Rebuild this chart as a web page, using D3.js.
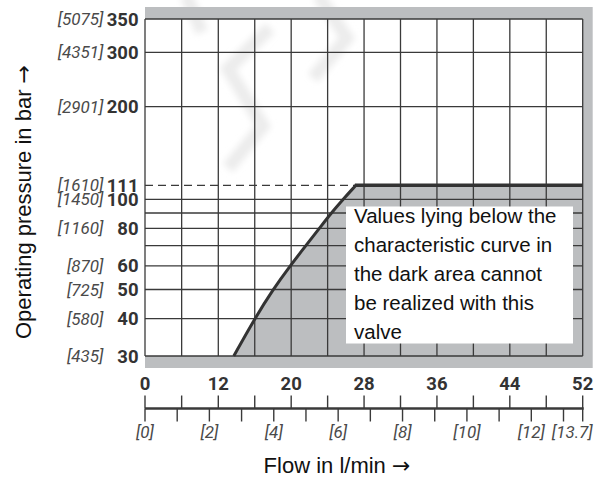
<!DOCTYPE html>
<html>
<head>
<meta charset="utf-8">
<style>
  html, body { margin: 0; padding: 0; background: #fff; }
  svg { display: block; }
</style>
<script src="https://cdn.jsdelivr.net/npm/d3@7/dist/d3.min.js"></script>
</head>
<body>
<div id="chart"></div>
<script>
// Pressure axis (bar) with psi equivalents.
var pressureTicks = [350, 300, 200, 111, 100, 80, 60, 50, 40, 30];
var psiLabels = ["[5075]", "[4351]", "[2901]", "[1610]", "[1450]", "[1160]", "[870]", "[725]", "[580]", "[435]"];
var pressureGrid = [30, 40, 50, 60, 70, 80, 90, 100, 200, 300, 350];

// Flow axis (l/min) with gpm sub-axis.
var flowLabels = [0, 12, 20, 28, 36, 44, 52];
var flowGrid = [0, 6, 12, 16, 20, 24, 28, 32, 36, 40, 44, 48, 52];
var gpmTicks = [0, 1, 2, 3, 4, 5, 6, 7, 8, 9, 10, 11, 12, 13, 13.7];
var gpmLabels = [0, 2, 4, 6, 8, 10, 12, 13.7];

// Characteristic curve: [flow l/min, pressure bar].
var curveFlow = [13.7, 16.0, 18.0, 19.9, 21.6, 23.1, 24.4, 25.7, 27.1];
var curvePressure = [30, 40, 50, 60, 70, 80, 90, 100, 111];
var maxPressure = 111;
var maxFlow = 52;

var noteLines = [
  "Values lying below the",
  "characteristic curve in",
  "the dark area cannot",
  "be realized with this",
  "valve"
];

(function () {
  "use strict";

  var W = 598, H = 480;
  var grey = "#bcbec0", ink = "#3a3a3a";
  var sans = "Liberation Sans, Arial, sans-serif";

  var svg = d3.select("#chart").append("svg")
    .attr("width", W).attr("height", H);

  // Broken flow axis: 0..12 compressed into two grid cells.
  var x = d3.scaleLinear().domain([0, 12, 52]).range([145, 218.3, 582.7]);
  var xg = d3.scaleLinear().domain([0, 13, 13.7]).range([145, 563.5, 582.7]);
  var y = d3.scaleLog().domain([30, 100, 300, 350]).range([356, 199.3, 52.3, 19]);

  var x0 = x(0), x1 = x(52), yTop = y(350), yBot = y(30);

  // Grey frame + white plot.
  svg.append("rect")
    .attr("x", x0).attr("y", yTop - 12)
    .attr("width", x1 - x0 + 10).attr("height", yBot - yTop + 24)
    .attr("fill", grey);
  svg.append("rect")
    .attr("x", x0).attr("y", yTop)
    .attr("width", x1 - x0).attr("height", yBot - yTop)
    .attr("fill", "#fff");

  // Faint watermark.
  var defs = svg.append("defs");
  defs.append("filter").attr("id", "blur")
    .append("feGaussianBlur").attr("stdDeviation", 3);
  var clip = defs.append("clipPath").attr("id", "wm-clip");
  clip.append("rect").attr("x", x0).attr("y", yTop).attr("width", x1 - x0).attr("height", yBot - yTop);
  clip.append("rect").attr("x", 0).attr("y", 0).attr("width", W).attr("height", yTop - 12);
  var wm = svg.append("g").attr("clip-path", "url(#wm-clip)")
    .attr("filter", "url(#blur)")
    .attr("fill", "none").attr("stroke", "#ececec")
    .attr("stroke-width", 13).attr("stroke-linejoin", "miter");
  [
    [[186, -5], [202, 32]],
    [[270, 28], [228, 69], [263, 126], [228, 168]],
    [[318, -5], [347, 38], [313, 78]]
  ].forEach(function (p) {
    wm.append("path").attr("d", d3.line()(p));
  });

  // Dark area below the characteristic curve.
  var pts = curveFlow.map(function (f, i) { return [f, curvePressure[i]]; });
  var area = d3.area()
    .curve(d3.curveBasis)
    .y(function (d) { return y(d[1]); })
    .x0(function (d) { return x(d[0]); })
    .x1(x(maxFlow));
  svg.append("path").attr("d", area(pts)).attr("fill", grey);

  // Grid.
  var grid = svg.append("g").attr("stroke", ink).attr("stroke-width", 1.3);
  grid.selectAll("line.h").data(pressureGrid).enter().append("line")
    .attr("x1", x0).attr("x2", x1)
    .attr("y1", function (d) { return y(d); })
    .attr("y2", function (d) { return y(d); });
  grid.selectAll("line.v").data(flowGrid).enter().append("line")
    .attr("y1", yTop).attr("y2", yBot)
    .attr("x1", function (d) { return x(d); })
    .attr("x2", function (d) { return x(d); });

  // Dashed limit line up to the curve.
  svg.append("line")
    .attr("x1", x0).attr("x2", x(curveFlow[curveFlow.length - 1]))
    .attr("y1", y(maxPressure)).attr("y2", y(maxPressure))
    .attr("stroke", ink).attr("stroke-width", 1.2)
    .attr("stroke-dasharray", "8 5");

  // Characteristic curve + flat limit.
  var line = d3.line()
    .curve(d3.curveBasis)
    .x(function (d) { return x(d[0]); })
    .y(function (d) { return y(d[1]); });
  svg.append("path").attr("d", line(pts))
    .attr("fill", "none").attr("stroke", "#333").attr("stroke-width", 3);
  svg.append("path").attr("d", d3.line()([
      [x(curveFlow[curveFlow.length - 1]) - 1, y(maxPressure)],
      [x(maxFlow), y(maxPressure)]
    ]))
    .attr("stroke", "#333").attr("stroke-width", 3.5);

  // Note box.
  svg.append("rect")
    .attr("x", 346).attr("y", 206.5).attr("width", 227).attr("height", 137)
    .attr("fill", "#fff");
  svg.append("g").selectAll("text").data(noteLines).enter().append("text")
    .attr("x", 354)
    .attr("y", function (d, i) { return 222.5 + i * 29; })
    .attr("font-family", sans)
    .attr("font-size", "20.5px")
    .attr("fill", "#111")
    .text(function (d) { return d; });

  // Y axis labels.
  var yl = svg.append("g");
  yl.selectAll("text.bar").data(pressureTicks).enter().append("text")
    .attr("x", 138.5)
    .attr("y", function (d) { return y(d) + 6.5; })
    .attr("text-anchor", "end")
    .attr("font-family", "Roboto, sans-serif")
    .attr("font-weight", 700).attr("font-size", "18.5px")
    .attr("fill", "#333")
    .text(function (d) { return d; });
  yl.selectAll("text.psi").data(pressureTicks).enter().append("text")
    .attr("x", 103.5)
    .attr("y", function (d) { return y(d) + 6; })
    .attr("text-anchor", "end")
    .attr("font-family", "Roboto, sans-serif")
    .attr("font-style", "italic")
    .attr("font-size", "17px")
    .attr("fill", "#4a4a4a")
    .text(function (d, i) { return psiLabels[i]; });

  // Bottom double axis.
  var axY = 408.5;
  var ax = svg.append("g").attr("stroke", ink);
  ax.append("line").attr("x1", x0).attr("x2", x1 + 1)
    .attr("y1", axY).attr("y2", axY).attr("stroke-width", 2.6);
  ax.selectAll("line.up").data(flowGrid).enter().append("line")
    .attr("x1", function (d) { return x(d); }).attr("x2", function (d) { return x(d); })
    .attr("y1", axY - 13).attr("y2", axY).attr("stroke-width", 1.4);
  ax.selectAll("line.dn").data(gpmTicks).enter().append("line")
    .attr("x1", function (d) { return xg(d); }).attr("x2", function (d) { return xg(d); })
    .attr("y1", axY).attr("y2", axY + 13).attr("stroke-width", 1.4);

  svg.append("g").selectAll("text").data(flowLabels).enter().append("text")
    .attr("x", function (d) { return x(d); })
    .attr("y", 390)
    .attr("text-anchor", "middle")
    .attr("font-family", "Roboto, sans-serif")
    .attr("font-weight", 700).attr("font-size", "18.5px")
    .attr("fill", "#333")
    .text(function (d) { return d; });

  svg.append("g").selectAll("text").data(gpmLabels).enter().append("text")
    .attr("x", function (d) { return d === 13.7 ? xg(d) + 10 : xg(d); })
    .attr("y", 438)
    .attr("text-anchor", function (d) { return d === 13.7 ? "end" : "middle"; })
    .attr("font-family", "Roboto, sans-serif")
    .attr("font-style", "italic")
    .attr("font-size", "17px")
    .attr("fill", "#4a4a4a")
    .text(function (d) { return "[" + d + "]"; });

  // Axis titles (arrow from DejaVu for a full-size glyph).
  function title(sel, label) {
    sel.attr("text-anchor", "middle")
      .attr("font-family", sans)
      .attr("font-size", "22px").attr("fill", "#111");
    sel.append("tspan").text(label + " ");
    sel.append("tspan").attr("font-family", "DejaVu Sans").text("\u2192");
  }
  title(svg.append("text").attr("x", 337).attr("y", 473), "Flow in l/min");
  title(svg.append("text").attr("transform", "translate(31,202) rotate(-90)"),
    "Operating pressure in bar");
})();
</script>
</body>
</html>
